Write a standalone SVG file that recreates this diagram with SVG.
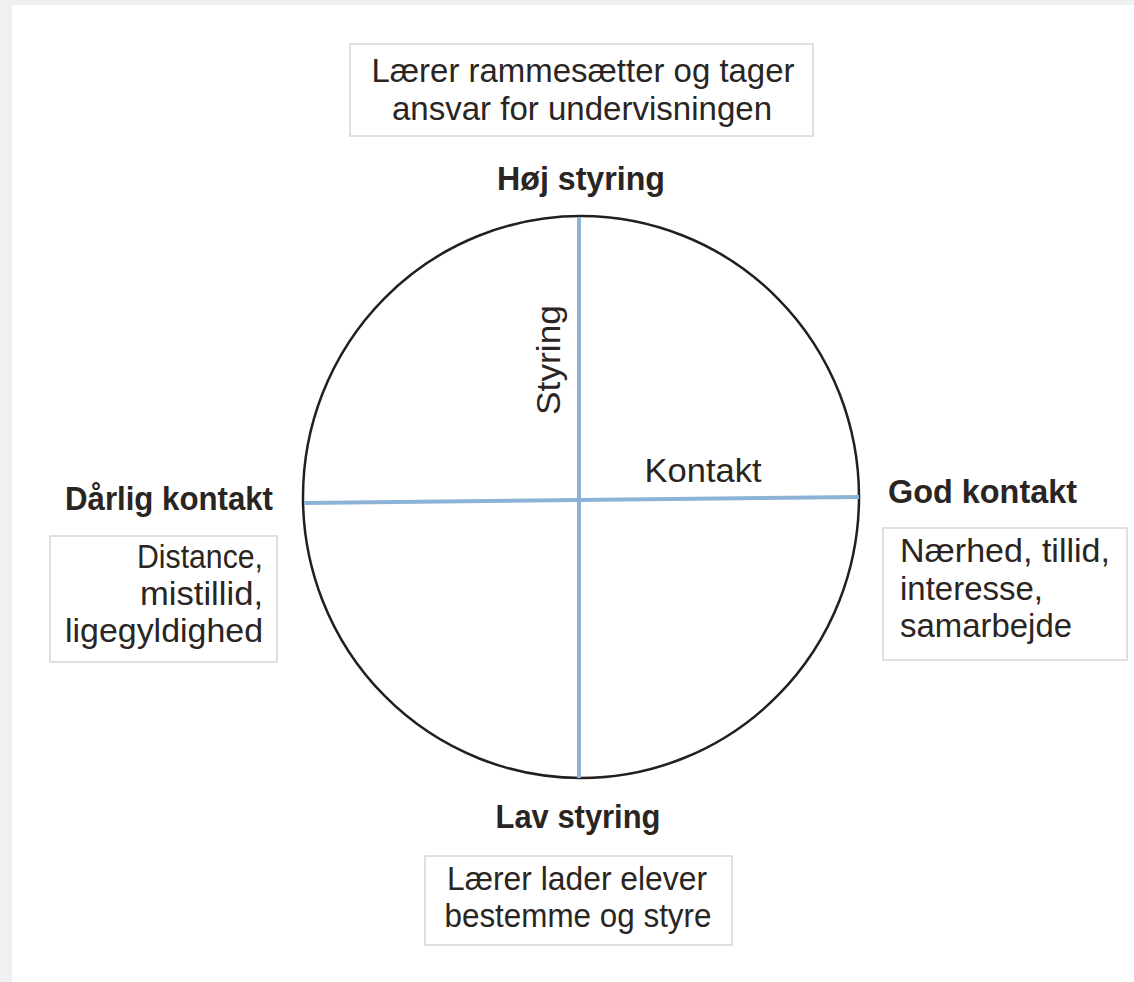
<svg xmlns="http://www.w3.org/2000/svg" width="1134" height="982" viewBox="0 0 1134 982">
<style>
.t{font-family:"Liberation Sans",Arial,sans-serif;font-size:33px;fill:#2a2522}
.b{font-weight:bold}
.m{text-anchor:middle}
.e{text-anchor:end}
.box{fill:#ffffff;stroke:#d6d6d2;stroke-width:1.5}
.axis{stroke:#8cb2d8;stroke-width:4;fill:none}
</style>
<rect x="0" y="0" width="1134" height="982" fill="#eff0f2"/>
<rect x="12" y="5" width="1122" height="977" fill="#ffffff"/>
<g id="circle">
<ellipse cx="581" cy="497" rx="278" ry="281" fill="none" stroke="#231f1c" stroke-width="2.5"/>
</g>
<g id="connectors">
<line class="axis" x1="579" y1="217" x2="579" y2="778"/>
<line class="axis" x1="304" y1="503" x2="859" y2="497"/>
</g>
<g id="top-box">
<rect class="box" x="350" y="44" width="463" height="92"/>
<text class="t m" x="583" y="82" textLength="423" lengthAdjust="spacingAndGlyphs">Lærer rammesætter og tager</text>
<text class="t m" x="582" y="120" textLength="380" lengthAdjust="spacingAndGlyphs">ansvar for undervisningen</text>
</g>
<g id="hoj-styring">
<text class="t b m" x="581" y="190" textLength="168" lengthAdjust="spacingAndGlyphs">Høj styring</text>
</g>
<g id="styring-axis-label">
<text class="t m" transform="translate(560 360) rotate(-90)" x="0" y="0" textLength="110" lengthAdjust="spacingAndGlyphs">Styring</text>
</g>
<g id="kontakt-axis-label">
<text class="t m" x="703" y="482" textLength="117" lengthAdjust="spacingAndGlyphs">Kontakt</text>
</g>
<g id="darlig-kontakt">
<text class="t b e" x="273" y="510" textLength="208" lengthAdjust="spacingAndGlyphs">Dårlig kontakt</text>
</g>
<g id="left-box">
<rect class="box" x="50" y="536" width="227" height="126"/>
<text class="t e" x="263" y="568" textLength="126" lengthAdjust="spacingAndGlyphs">Distance,</text>
<text class="t e" x="263" y="605" textLength="123" lengthAdjust="spacingAndGlyphs">mistillid,</text>
<text class="t e" x="263" y="642" textLength="198" lengthAdjust="spacingAndGlyphs">ligegyldighed</text>
</g>
<g id="god-kontakt">
<text class="t b" x="888" y="503" textLength="189" lengthAdjust="spacingAndGlyphs">God kontakt</text>
</g>
<g id="right-box">
<rect class="box" x="883" y="528" width="244" height="132"/>
<text class="t" x="900" y="562" textLength="210" lengthAdjust="spacingAndGlyphs">Nærhed, tillid,</text>
<text class="t" x="900" y="600" textLength="143" lengthAdjust="spacingAndGlyphs">interesse,</text>
<text class="t" x="900" y="637" textLength="172" lengthAdjust="spacingAndGlyphs">samarbejde</text>
</g>
<g id="lav-styring">
<text class="t b m" x="578" y="828" textLength="165" lengthAdjust="spacingAndGlyphs">Lav styring</text>
</g>
<g id="bottom-box">
<rect class="box" x="425" y="856" width="307" height="89"/>
<text class="t m" x="577" y="890" textLength="260" lengthAdjust="spacingAndGlyphs">Lærer lader elever</text>
<text class="t m" x="578" y="927" textLength="267" lengthAdjust="spacingAndGlyphs">bestemme og styre</text>
</g>
</svg>
